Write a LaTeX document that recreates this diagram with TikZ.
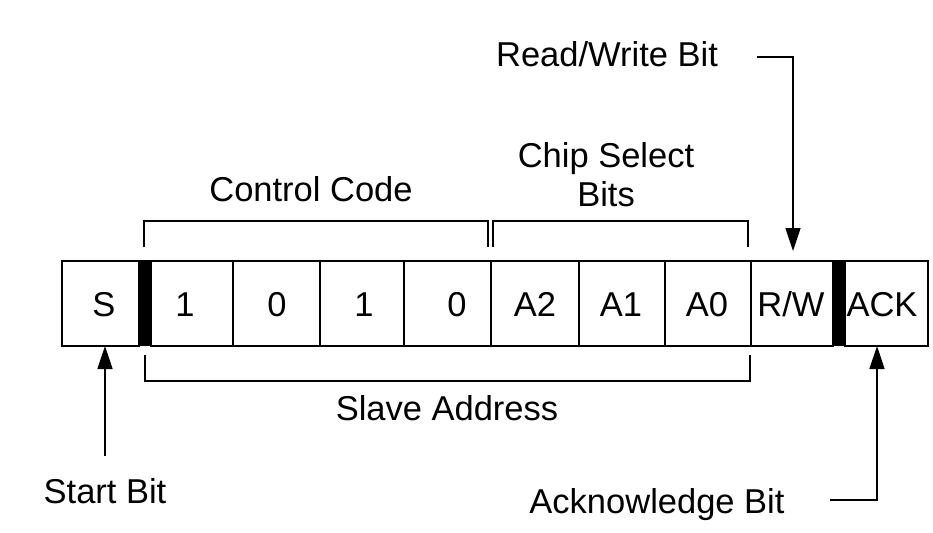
\documentclass[tikz,border=0pt]{standalone}
\usepackage{fontspec}
\setmainfont{Liberation Sans}
\usetikzlibrary{arrows.meta}
\tikzset{
  cell/.style={draw, line width=1.6pt, minimum height=85pt, inner sep=0pt, anchor=north west},
  bar/.style={fill=black, draw=black, line width=0.5pt},
  txt/.style={font=\fontsize{34.5}{38}\selectfont, inner sep=0pt, anchor=base},
  line/.style={line width=1.6pt},
  arr/.style={line width=1.6pt, -{Triangle[length=23pt,width=15pt]}}
}
\begin{document}
\begin{tikzpicture}[x=1pt,y=-1pt]
\useasboundingbox (0,0) rectangle (933,532);
% cells
\node[cell, minimum width=77pt] (cS) at (61,260) {};
\node[cell, minimum width=82pt] (c1) at (150,260) {};
\node[cell, minimum width=87pt] (c2) at (232,260) {};
\node[cell, minimum width=84pt] (c3) at (319,260) {};
\node[cell, minimum width=87pt] (c4) at (403,260) {};
\node[cell, minimum width=88pt] (c5) at (490,260) {};
\node[cell, minimum width=86pt] (c6) at (578,260) {};
\node[cell, minimum width=86pt] (c7) at (664,260) {};
\node[cell, minimum width=82pt] (c8) at (750,260) {};
\node[cell, minimum width=83pt] (c9) at (844,260) {};
% thick bars
\path[bar] (138,260) rectangle (150,345);
\path[bar] (832,260) rectangle (844,345);
% cell texts
\node[txt] (tS) at (104,316) {S};
\node[txt] (t1) at (185,316) {1};
\node[txt] (t2) at (277,316) {0};
\node[txt] (t3) at (364,316) {1};
\node[txt] (t4) at (457,316) {0};
\node[txt] (t5) at (535,316) {A2};
\node[txt] (t6) at (621,316) {A1};
\node[txt] (t7) at (707,316) {A0};
\node[txt] (t8) at (791,316) {R/W};
\node[txt] (t9) at (882,316) {ACK};
% brackets
\draw[line] (144,247) -- (144,221) -- (488,221) -- (488,247);
\draw[line] (493,247) -- (493,221) -- (748,221) -- (748,247);
\draw[line] (145,355) -- (145,381) -- (750,381) -- (750,355);
% labels
\node[txt] (lcc) at (311,201) {Control Code};
\node[txt] (lcs) at (606,167) {Chip Select};
\node[txt] (lbits) at (606,206) {Bits};
\node[txt] (lsa) at (447,420) {Slave Address};
\node[txt] (lrw) at (607,67) {Read/Write Bit};
\node[txt] (lst) at (105,503) {Start Bit};
\node[txt] (lack) at (657,513) {Acknowledge Bit};
% arrows
\coordinate (rwa) at (757,57);
\coordinate (rwb) at (793,57);
\coordinate (rwt) at (793,251);
\draw[arr] (rwa) -- (rwb) -- (rwt);
\coordinate (sta) at (105,456);
\coordinate (stt) at (105,346);
\draw[arr] (sta) -- (stt);
\coordinate (aca) at (830,500);
\coordinate (acb) at (877,500);
\coordinate (act) at (877,346);
\draw[arr] (aca) -- (acb) -- (act);
\end{tikzpicture}
\end{document}
